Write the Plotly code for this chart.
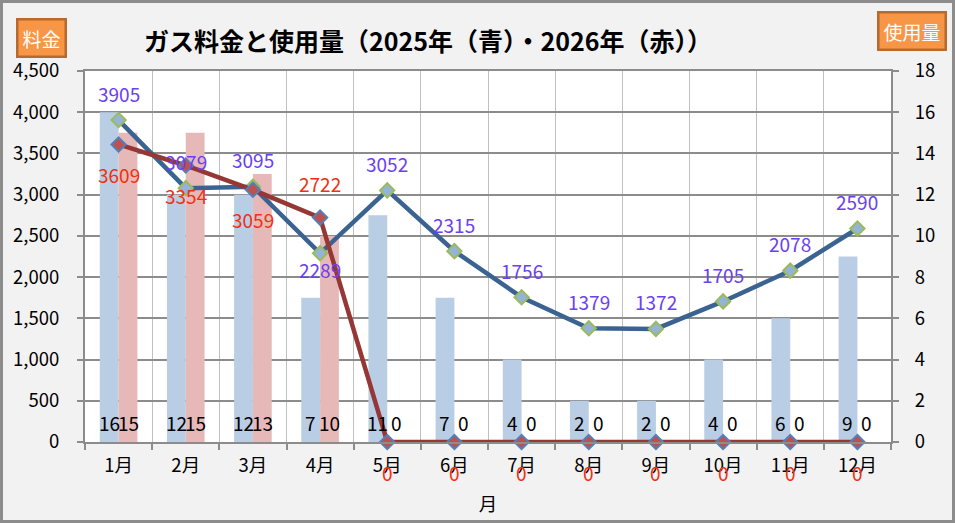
import plotly.graph_objects as go

# データ
months = [f"{m}月" for m in range(1, 13)]
cost_2025 = [3905, 3079, 3095, 2289, 3052, 2315, 1756, 1379, 1372, 1705, 2078, 2590]
cost_2026 = [3609, 3354, 3059, 2722, 0, 0, 0, 0, 0, 0, 0, 0]
use_2025 = [16, 12, 12, 7, 11, 7, 4, 2, 2, 4, 6, 9]
use_2026 = [15, 15, 13, 10, 0, 0, 0, 0, 0, 0, 0, 0]

# ラベル位置 (上 / 下)
pos_2025 = ["up", "up", "up", "down", "up", "up", "up", "up", "up", "up", "up", "up"]
pos_2026 = ["down", "down", "down", "up", "down", "down", "down", "down", "down", "down", "down", "down"]

FONT = "Noto Sans CJK JP"
W, H = 955, 523
L, R, T, B = 85, 64, 71, 81
PW, PH = W - L - R, H - T - B

fig = go.Figure()

fig.add_trace(go.Bar(x=months, y=use_2025, name="使用量2025",
                     marker=dict(color="#b9cde5", line=dict(width=0)), yaxis="y"))
fig.add_trace(go.Bar(x=months, y=use_2026, name="使用量2026",
                     marker=dict(color="#e6b9b8", line=dict(width=0)), yaxis="y"))

fig.add_trace(go.Scatter(x=months, y=cost_2025, name="料金2025", yaxis="y2",
                         mode="lines+markers", cliponaxis=False,
                         line=dict(color="#3a6392", width=4.5),
                         marker=dict(symbol="diamond", size=11, color="#95b3d7",
                                     line=dict(color="#9bbb59", width=2))))
fig.add_trace(go.Scatter(x=months, y=cost_2026, name="料金2026", yaxis="y2",
                         mode="lines+markers", cliponaxis=False,
                         line=dict(color="#953735", width=4.5),
                         marker=dict(symbol="diamond", size=11, color="#c0504d",
                                     line=dict(color="#4f81bd", width=2))))

LBL = 19
ann = []
# 使用量ラベル (棒の根元)
for m, a, b in zip(months, use_2025, use_2026):
    ann.append(dict(x=m, y=0, yref="y", xref="x", text=str(a), showarrow=False,
                    xshift=-9.5, yshift=20, font=dict(family=FONT, size=LBL, color="black")))
    ann.append(dict(x=m, y=0, yref="y", xref="x", text=str(b), showarrow=False,
                    xshift=9.5, yshift=20, font=dict(family=FONT, size=LBL, color="black")))
# 料金ラベル
for m, v, p in zip(months, cost_2025, pos_2025):
    ann.append(dict(x=m, y=v, yref="y2", xref="x", text=str(v), showarrow=False,
                    yshift=27 if p == "up" else -16,
                    font=dict(family=FONT, size=LBL, color="#6a40f0")))
for m, v, p in zip(months, cost_2026, pos_2026):
    ann.append(dict(x=m, y=v, yref="y2", xref="x", text=str(v), showarrow=False,
                    yshift=34 if p == "up" else -30,
                    font=dict(family=FONT, size=LBL, color="#f03010")))

# 軸タイトルの箱
box = dict(xref="paper", yref="paper", xanchor="center", yanchor="middle",
           showarrow=False, bgcolor="#f79646", bordercolor="#b8692c",
           borderwidth=2.5, borderpad=4, font=dict(family=FONT, size=19, color="white"))
ann.append(dict(x=(41.5 - L) / PW, y=(T + PH - 38) / PH, text="料金", **box))
ann.append(dict(x=(912.5 - L) / PW, y=(T + PH - 31) / PH, text="使用量", **box))

axis_common = dict(automargin=False, showline=True, linecolor="#8c8c8c", linewidth=2,
                   ticks="outside", ticklen=6, tickcolor="#8c8c8c", tickwidth=2,
                   tickfont=dict(family=FONT, size=18.5, color="black"))

fig.update_layout(
    width=W, height=H,
    margin=dict(l=L, r=R, t=T, b=B, autoexpand=False),
    paper_bgcolor="#f2f2f2",
    plot_bgcolor="white",
    barmode="group",
    bargap=0.44,
    bargroupgap=0,
    showlegend=False,
    font=dict(family=FONT, size=18, color="black"),
    title=dict(text="<b>ガス料金と使用量（2025年（青）・2026年（赤））</b>",
               x=428 / W, xanchor="center", xref="container",
               y=1 - 42 / H, yanchor="middle", yref="container", automargin=False,
               font=dict(family=FONT, size=25, color="black")),
    xaxis=dict(type="category", range=[-0.5, 11.5], tickson="boundaries", showgrid=True,
               gridcolor="#c0c0c0", gridwidth=1, mirror=True, ticklabelstandoff=6,
               title=dict(text="月", standoff=22, font=dict(family=FONT, size=18.5)),
               **axis_common),
    yaxis=dict(side="right", range=[0, 18], dtick=2, showgrid=True, ticklabelstandoff=12,
               gridcolor="#8c8c8c", gridwidth=2, zeroline=False, **axis_common),
    yaxis2=dict(overlaying="y", side="left", range=[0, 4500], dtick=500, ticklabelstandoff=14,
                tickformat=",", showgrid=False, zeroline=False, **axis_common),
    annotations=ann,
    shapes=[dict(type="rect", xref="paper", yref="paper",
                 x0=-(L - 1.5) / PW, x1=(W - L - 1.5) / PW,
                 y0=-(B - 1.5) / PH, y1=(PH + T - 1.5) / PH,
                 line=dict(color="#8c8c8c", width=3), layer="below")],
)

fig.write_html("out.html", config={"displayModeBar": False},
               post_script="document.body.style.margin='0';")
